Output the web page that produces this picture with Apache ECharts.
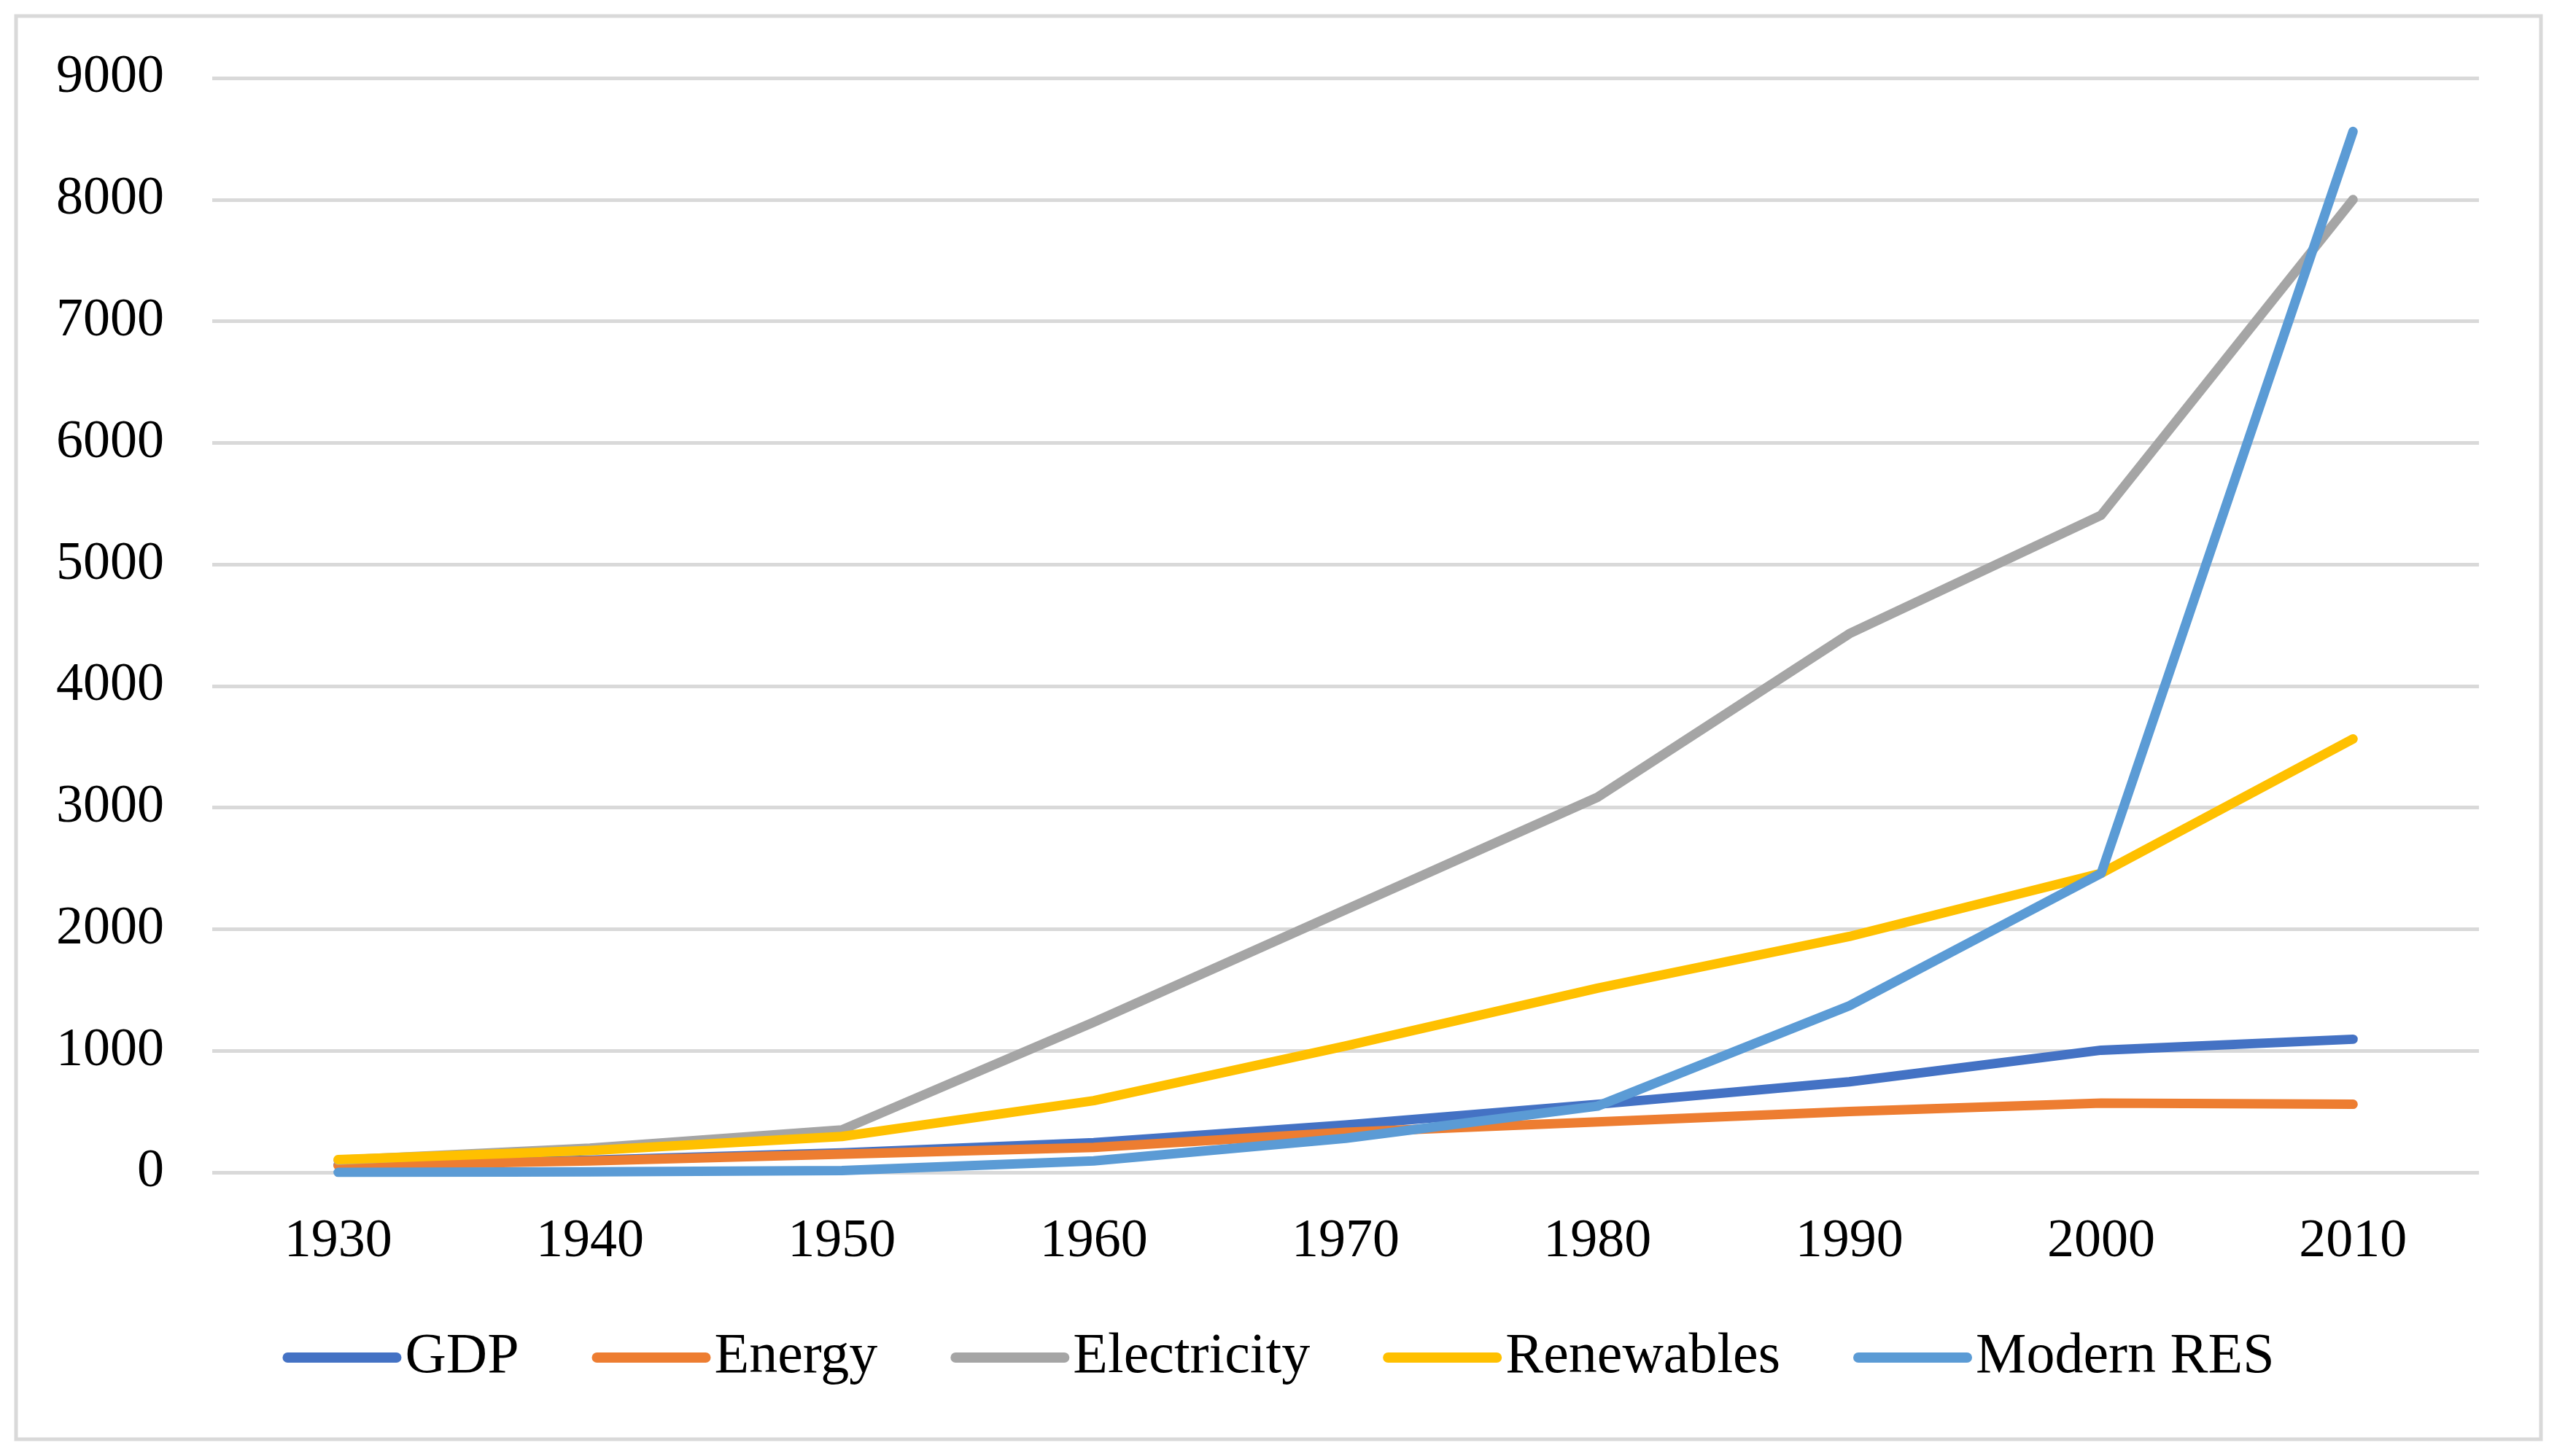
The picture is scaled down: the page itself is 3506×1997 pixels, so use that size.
<!DOCTYPE html>
<html>
<head>
<meta charset="utf-8">
<script src="https://cdn.jsdelivr.net/npm/echarts@6/dist/echarts.min.js"></script>
<style>
html,body{margin:0;padding:0;background:#fff;}
#chart{width:3506px;height:1997px;}
</style>
</head>
<body>
<div id="chart"></div>
<script>
const years = ['1930','1940','1950','1960','1970','1980','1990','2000','2010'];
const gdp = [60, 100, 160, 245, 390, 560, 745, 1005, 1095];
const energy = [55, 95, 150, 205, 330, 415, 500, 570, 560];
const electricity = [100, 200, 350, 1235, 2160, 3085, 4430, 5405, 8000];
const renewables = [105, 180, 295, 590, 1040, 1515, 1940, 2460, 3565];
const modernRES = [0, 5, 15, 95, 280, 545, 1370, 2460, 8560];
const yTicks = [0, 1000, 2000, 3000, 4000, 5000, 6000, 7000, 8000, 9000];
const seriesNames = ['GDP','Energy','Electricity','Renewables','Modern RES'];
const seriesColors = ['#4472C4','#ED7D31','#A5A5A5','#FFC000','#5B9BD5'];
const seriesData = [gdp, energy, electricity, renewables, modernRES];

const chart = echarts.init(document.getElementById('chart'));
const font = "'Liberation Serif', 'Times New Roman', serif";
chart.setOption({
  animation: false,
  backgroundColor: '#ffffff',
  graphic: [{
    type: 'rect',
    shape: {x: 22, y: 22, width: 3462, height: 1952},
    style: {fill: 'none', stroke: '#D9D9D9', lineWidth: 5},
    silent: true
  }],
  grid: {left: 291, right: 107, top: 107, bottom: 389, containLabel: false},
  legend: {
    data: seriesNames,
    bottom: 91,
    left: 'center',
    icon: 'path://M7,0H156A7,7,0,0,1,156,14H7A7,7,0,0,1,7,0Z',
    itemWidth: 163,
    itemHeight: 14,
    itemGap: 100,
    textStyle: {fontFamily: font, fontSize: 78, color: '#000'}
  },
  xAxis: {
    type: 'category',
    data: years,
    boundaryGap: true,
    axisLine: {show: false},
    axisTick: {show: false},
    axisLabel: {fontFamily: font, fontSize: 74, color: '#000', margin: 59}
  },
  yAxis: {
    type: 'value',
    min: yTicks[0], max: yTicks[yTicks.length - 1], interval: 1000,
    axisLine: {show: false},
    axisTick: {show: false},
    splitLine: {show: true, lineStyle: {color: '#D9D9D9', width: 5}},
    axisLabel: {fontFamily: font, fontSize: 74, color: '#000', margin: 66,
      formatter: v => String(v)}
  },
  series: seriesNames.map((n, i) => ({
    name: n,
    type: 'line',
    data: seriesData[i],
    symbol: 'none',
    smooth: false,
    itemStyle: {color: seriesColors[i]},
    lineStyle: {color: seriesColors[i], width: 13, cap: 'round', join: 'round'}
  }))
});
</script>
</body>
</html>
